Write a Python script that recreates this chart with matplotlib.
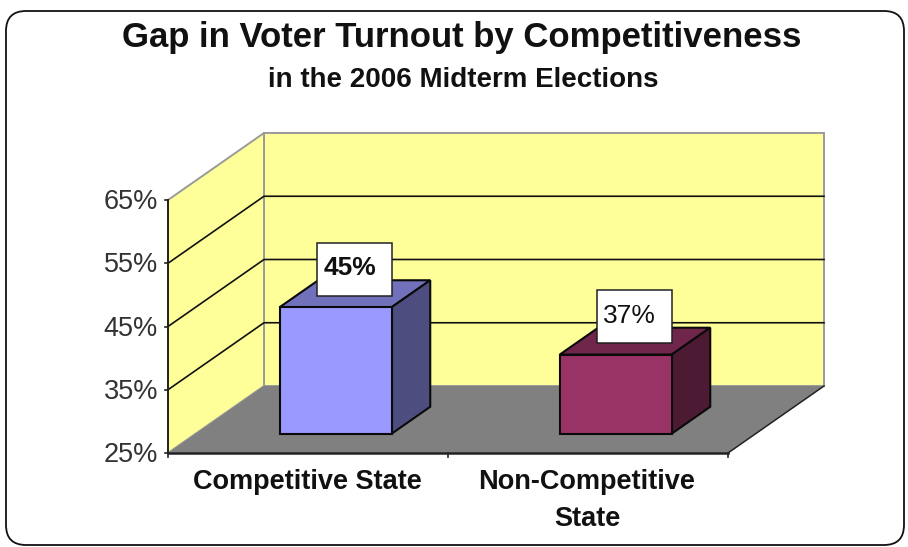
import matplotlib
matplotlib.use("Agg")
import matplotlib.pyplot as plt
from matplotlib.patches import Polygon, FancyBboxPatch, Rectangle

categories = ["Competitive State", "Non-Competitive\nState"]
values = [45, 37.5]
value_labels = ["45%", "37%"]
label_weights = ["bold", "normal"]
y_ticks = [25, 35, 45, 55, 65]
y_tick_labels = ["25%", "35%", "45%", "55%", "65%"]
title = "Gap in Voter Turnout by Competitiveness"
subtitle = "in the 2006 Midterm Elections"
bar_front = ["#9999FF", "#993366"]
bar_top = ["#7070BB", "#70254B"]
bar_side = ["#4D4D80", "#4D1A33"]

W, H = 908, 547
plt.rcParams["font.family"] = ["Liberation Sans", "DejaVu Sans"]
fig = plt.figure(figsize=(W / 100, H / 100), dpi=100, facecolor="white")

# frame layer in pixels
fr = fig.add_axes([0, 0, 1, 1])
fr.set_xlim(0, W); fr.set_ylim(H, 0); fr.axis("off")
fr.add_patch(FancyBboxPatch((6, 11), 898, 534, boxstyle="round,pad=0,rounding_size=20",
                            fc="white", ec="#111111", lw=1.3))

# chart layer: x in category slots, y in percent
PX_Y = 6.325
PX_X = 280.0
x0, y0 = 168, 453
ax = fig.add_axes([0, 0, 1, 1], facecolor="none")
ax.set_xlim(-0.5 - x0 / PX_X, -0.5 + (W - x0) / PX_X)
ax.set_ylim(25 - (H - y0) / PX_Y, 25 + y0 / PX_Y)
ax.axis("off")

DX = 96 / PX_X   # x shift of full depth
DY = 67 / PX_Y   # y shift of full depth
XL, XR = -0.5, 1.5
YB, YT = y_ticks[0], y_ticks[-1]


def P(x, v, d=0.0):
    return (x + d * DX, v + d * DY)


yellow = "#FFFF99"
grey = "#808080"
edge = "#9a9a9a"
ax.add_patch(Polygon([P(XL, YB, 1), P(XR, YB, 1), P(XR, YT, 1), P(XL, YT, 1)],
                     fc=yellow, ec=edge, lw=1.4, zorder=1))
ax.add_patch(Polygon([P(XL, YB), P(XL, YB, 1), P(XL, YT, 1), P(XL, YT)],
                     fc=yellow, ec=edge, lw=1.4, zorder=1))
ax.add_patch(Polygon([P(XL, YB), P(XR, YB), P(XR, YB, 1), P(XL, YB, 1)],
                     fc=grey, ec="none", zorder=2))

# gridlines
for v in y_ticks[1:-1]:
    pts = [P(XL, v), P(XL, v, 1), P(XR, v, 1)]
    ax.plot(*zip(*pts), color="#111111", lw=1.2, zorder=1.5)
# floor front right edge
ax.plot(*zip(P(XR, YB), P(XR, YB, 1)), color="#222222", lw=1.1, zorder=3)

# axes lines and ticks
ax.plot([XL, XL], [YB, YT], color="#222222", lw=1.4, zorder=6)
ax.plot([XL, XR], [YB, YB], color="#222222", lw=1.8, zorder=6)
for v, s in zip(y_ticks, y_tick_labels):
    ax.plot([XL - 3 / PX_X, XL], [v, v], color="#222222", lw=1.2, zorder=6)
    ax.text(XL - 10 / PX_X, v - 2 / PX_Y, s, ha="right", va="center", fontsize=19.5, color="#333333")
for x in [-0.5, 0.5, 1.5]:
    ax.plot([x, x], [YB, YB - 3.5 / PX_Y], color="#222222", lw=1.2, zorder=6)

# 3-D bars
BW = 0.4
D1, D2 = 0.29, 0.69
for i, (c, v) in enumerate(zip(categories, values)):
    l, r = i - BW / 2, i + BW / 2
    ekw = dict(ec="#0a0a0a", lw=1.5, joinstyle="miter", zorder=4)
    ax.add_patch(Polygon([P(l, v, D1), P(r, v, D1), P(r, v, D2), P(l, v, D2)], fc=bar_top[i], **ekw))
    ax.add_patch(Polygon([P(r, YB, D1), P(r, YB, D2), P(r, v, D2), P(r, v, D1)], fc=bar_side[i], **ekw))
    ax.add_patch(Polygon([P(l, YB, D1), P(r, YB, D1), P(r, v, D1), P(l, v, D1)], fc=bar_front[i], **ekw))
    # value label box
    cx, cy = P(l + 75 / PX_X, v + 38 / PX_Y, D1)
    bw, bh = 75 / PX_X, 53 / PX_Y
    ax.add_patch(Rectangle((cx - bw / 2, cy - bh / 2), bw, bh, fc="white", ec="#222222", lw=1.1, zorder=5))
    ax.text(cx - 5 / PX_X, cy + 1 / PX_Y, value_labels[i], ha="center", va="center", fontsize=19,
            fontweight=label_weights[i], color="#111111", zorder=6)
    # category label
    ax.text(i - 1 / PX_X, YB - 16 / PX_Y, c, ha="center", va="top", fontsize=19.5, fontweight="bold",
            color="#111111", linespacing=1.55, zorder=6)

fr.text(462, 37, title, ha="center", va="center", fontsize=25, fontweight="bold", color="#111111")
fr.text(463, 80, subtitle, ha="center", va="center", fontsize=20, fontweight="bold", color="#111111")

fig.savefig("out.png", dpi=100, facecolor="white")
